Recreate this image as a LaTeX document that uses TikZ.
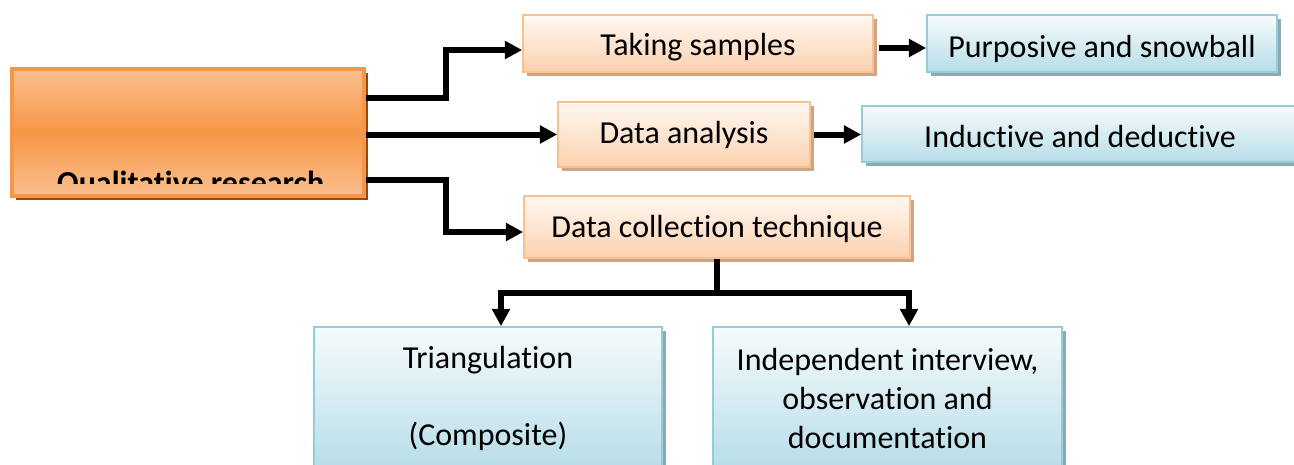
\documentclass[tikz,border=0pt]{standalone}
\usepackage{fontspec}
\setmainfont{Carlito}[Ligatures=NoCommon]
\usetikzlibrary{arrows.meta,calc,shadows}

\definecolor{qualfill}{HTML}{F79646}
\definecolor{qualpale}{HTML}{FAC090}
\definecolor{qualshadow}{HTML}{984807}
\definecolor{peachline}{HTML}{FAC090}
\definecolor{peachtop}{HTML}{FFF8F2}
\definecolor{peachbot}{HTML}{FBD1AE}
\definecolor{peachshadow}{HTML}{CFA385}
\definecolor{blueline}{HTML}{92CDDC}
\definecolor{bluetop}{HTML}{F6FBFC}
\definecolor{bluebot}{HTML}{B7DDE8}
\definecolor{blueshadow}{HTML}{8FA8B1}

\tikzset{every picture/.style={line width=0.75pt}}
\tikzset{
  boxtext/.style={font=\fontsize{24}{28.9}\selectfont, align=center, inner sep=0pt},
  peachbox/.style={boxtext, draw=peachline, line width=1.2pt, top color=peachtop, bottom color=peachbot,
    general shadow={fill=peachshadow, shadow xshift=3pt, shadow yshift=-3pt}},
  bluebox/.style={boxtext, draw=blueline, line width=1.2pt, top color=bluetop, bottom color=bluebot,
    general shadow={fill=blueshadow, shadow xshift=3pt, shadow yshift=-3pt}},
  lowtext/.style={text height=#1, text depth=0pt},
  link/.style={line width=4.5pt},
  conn/.style={link, -{Triangle[length=13pt,width=13pt]}},
}

\begin{document}
\begin{tikzpicture}[x=0.75pt,y=0.75pt,yscale=-1,xscale=1]
\useasboundingbox (0,0) rectangle (1294,464);

%Shape: Main box
\node [draw=qualfill, line width=3pt, top color=qualpale, bottom color=qualpale, middle color=qualfill,
  general shadow={fill=qualshadow, shadow xshift=3pt, shadow yshift=-3pt},
  minimum width=264pt, minimum height=95.25pt] (qual) at (188,132.5) {};
% Text Node (clipped by the box)
\begin{scope}
\clip (14,71) rectangle (362,183);
\node [boxtext, font=\fontsize{24}{28.9}\selectfont\bfseries, anchor=base] (qualtext) at (190.5,193) {Qualitative research};
\end{scope}

%Shape: Second level
\node [peachbox, lowtext=17.25pt, minimum width=262.5pt, minimum height=42.75pt] (samp) at (698,43.5) {Taking samples};
\node [peachbox, lowtext=12.75pt, minimum width=189pt, minimum height=48.75pt] (anal) at (684,134.5) {Data analysis};
\node [peachbox, lowtext=15pt, minimum width=289.5pt, minimum height=46.5pt] (coll) at (717,227) {Data collection technique};

%Shape: Results
\node [bluebox, lowtext=20.25pt, minimum width=262.5pt, minimum height=42.75pt] (purp) at (1102,43.5) {Purposive and snowball};
\node [bluebox, lowtext=19.5pt, minimum width=327pt, minimum height=42pt] (induc) at (1080,134) {Inductive and deductive};
\node [bluebox, minimum width=261pt, minimum height=107.25pt] (tri) at (488,398.5) {Triangulation\\[28.9pt](Composite)};
\node [bluebox, minimum width=261.75pt, minimum height=107.25pt] (indep) at (887.5,398.5) {Independent interview,\\observation and\\documentation};

%Straight Lines
\draw [conn] ($(qual.east)+(0,-34.5)$) -- ++(80,0) |- ($(samp.west)+(0,6.5)$);
\draw [conn] (qual.east |- anal.west) -- (anal.west);
\draw [conn] ($(qual.east)+(0,47.5)$) -- ++(80,0) |- ($(coll.west)+(0,5)$);
\draw [conn] ($(samp.east)+(5,4.5)$) -- ($(purp.west)+(0,4.5)$);
\draw [conn] ($(anal.east)+(3,0)$) -- (induc.west |- anal.east);
\draw [link] (coll.south) -- ++(0,34) coordinate (split);
\draw [conn] (split) -| ($(tri.north)+(13,0)$);
\draw [conn] (split) -| ($(indep.north)+(21.5,0)$);

\end{tikzpicture}
\end{document}
